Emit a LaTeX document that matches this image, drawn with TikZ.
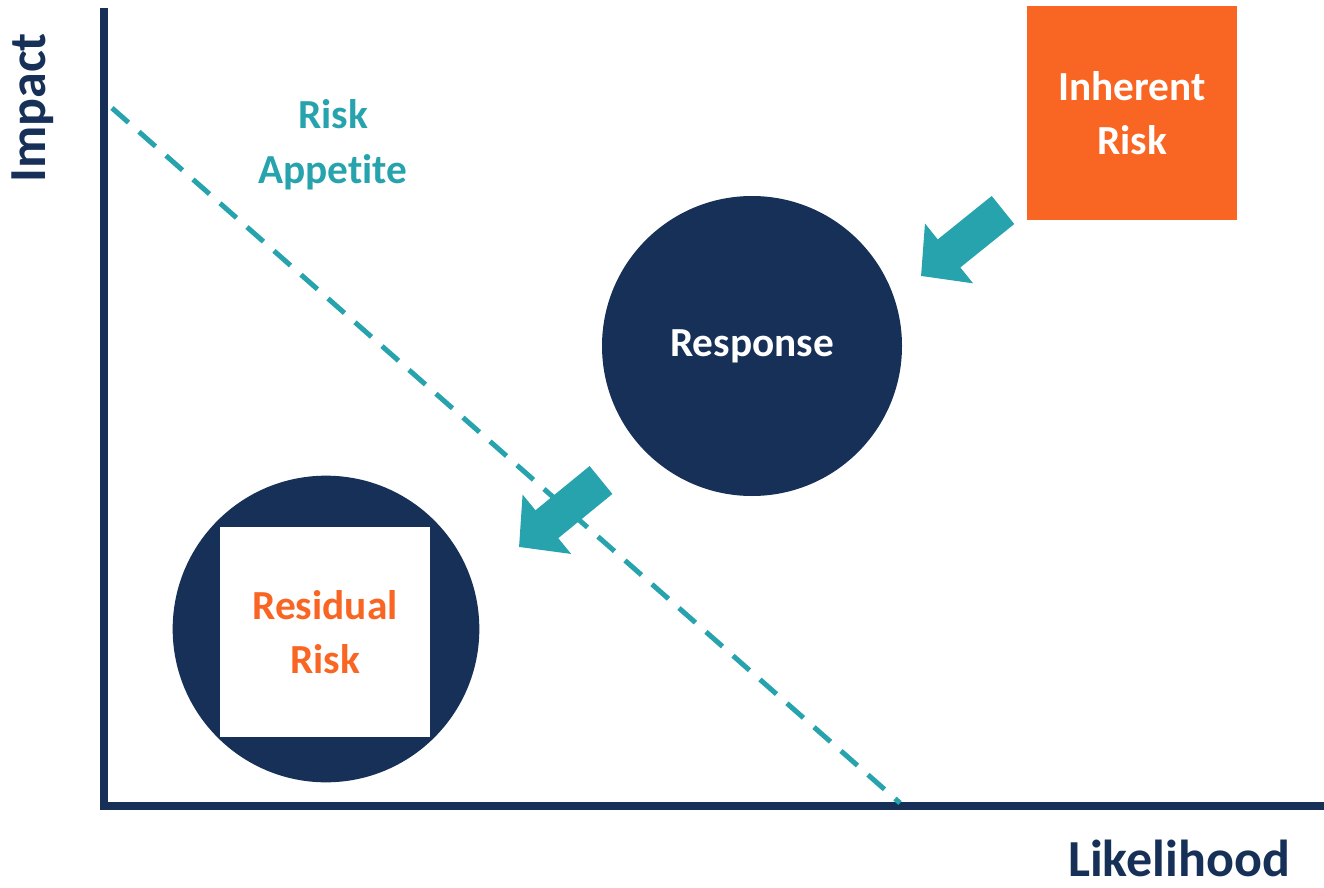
\documentclass[tikz,border=0pt]{standalone}
\usepackage{fontspec}
\setmainfont[Ligatures=NoCommon]{Carlito}
\usetikzlibrary{arrows.meta}
\definecolor{RiskNavy}{RGB}{22,48,87}
\definecolor{RiskTeal}{RGB}{39,163,173}
\definecolor{RiskOrange}{RGB}{249,101,34}
\tikzstyle{AxisLine}=[draw=RiskNavy, line width=6pt, miter limit=10]
\tikzstyle{AxisTitle}=[text=RiskNavy, inner sep=0pt, font=\fontsize{39}{47}\selectfont\bfseries]
\tikzstyle{LabelText}=[align=center, font=\fontsize{31}{41}\selectfont\bfseries]
\tikzstyle{AppetiteLine}=[draw=RiskTeal, line width=3.75pt, dash pattern=on 16.5pt off 10.5pt]
\tikzstyle{InherentBox}=[rectangle, fill=RiskOrange, text=white, LabelText, minimum width=158pt, minimum height=160pt]
\tikzstyle{ResponseNode}=[circle, fill=RiskNavy, text=white, LabelText, minimum size=225pt]
\tikzstyle{ResidualNode}=[circle, fill=RiskNavy, minimum size=230pt]
\tikzstyle{ResidualBox}=[rectangle, fill=white, text=RiskOrange, LabelText, minimum size=158pt]
\tikzstyle{MoveArrow}=[draw=RiskTeal, line width=27pt, -{Triangle[length=27pt, width=56pt]}]

\begin{document}
\begin{tikzpicture}[x=0.75pt,y=-0.75pt]
\useasboundingbox (0,0) rectangle (1324,888);

% axes
\coordinate (Top) at (104,8);
\coordinate (Origin) at (104,806);
\coordinate (Right) at (1324,806);
\draw[AxisLine] (Top) -- (Origin) -- (Right);
\node[AxisTitle, rotate=90](Impact) at (33,108) {Impact};
\node[AxisTitle](Likelihood) at (1179,858) {Likelihood};

% appetite line
\coordinate (AppStart) at (112,108);
\coordinate (AppEnd) at (900,803);
\draw[AppetiteLine] (AppStart) -- (AppEnd);
\node[LabelText, text=RiskTeal](Appetite) at (333,145) {Risk\\Appet\kern0pt ite};

% risks
\node[InherentBox](Inherent) at (1132,113) {Inherent\\Risk};
\node[ResponseNode](Response) at (752,346) {Response};
\node[ResidualNode](ResCircle) at (326,629) {};
\node[ResidualBox](Residual) at (325,632) {Residual\\Risk};

% arrows
\coordinate (Arr1Tail) at (1003,210);
\coordinate (Arr1Tip) at (921,276);
\coordinate (Arr2Tail) at (601,480);
\coordinate (Arr2Tip) at (519,547);
\draw[MoveArrow] (Arr1Tail) -- (Arr1Tip);
\draw[MoveArrow] (Arr2Tail) -- (Arr2Tip);
\end{tikzpicture}
\end{document}
